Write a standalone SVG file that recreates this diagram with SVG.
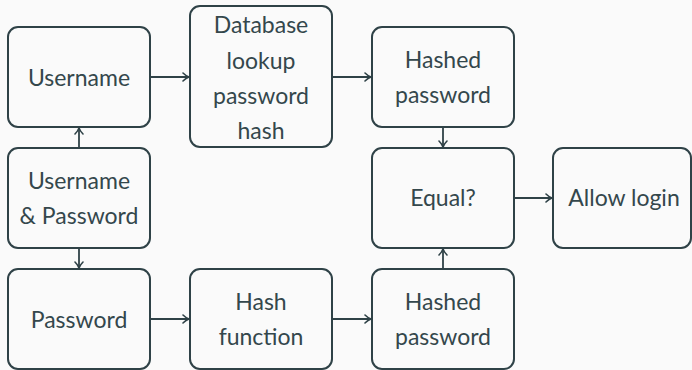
<svg xmlns="http://www.w3.org/2000/svg" width="692" height="370" viewBox="0 0 692 370">
  <defs>
    <marker id="arrow" viewBox="0 0 10 10" refX="9" refY="5" markerWidth="10" markerHeight="10" markerUnits="userSpaceOnUse" orient="auto">
      <path d="M3,1 Q6,4 9,5 Q6,6 3,9" fill="none" stroke="#2f4247" stroke-width="1.6" stroke-linecap="round"/>
    </marker>
    <style>
      .box { fill: none; stroke: #2f4247; stroke-width: 2; }
      .lbl { font-family: Lato, "Liberation Sans", sans-serif; font-size: 23px; fill: #34474c; text-anchor: middle; }
      .edge { fill: none; stroke: #2f4247; stroke-width: 1.8; marker-end: url(#arrow); }
    </style>
  </defs>
  <rect width="692" height="370" fill="#fafafa"/>

  <g id="username">
    <rect class="box" x="8" y="27" width="142" height="100" rx="10"/>
    <text class="lbl" x="79" y="86">Username</text>
  </g>
  <g id="db-lookup">
    <rect class="box" x="190" y="6" width="142" height="141" rx="10"/>
    <text class="lbl" x="261" y="33">Database</text>
    <text class="lbl" x="261" y="69">lookup</text>
    <text class="lbl" x="261" y="104">password</text>
    <text class="lbl" x="261" y="139">hash</text>
  </g>
  <g id="hashed-stored">
    <rect class="box" x="372" y="27" width="142" height="100" rx="10"/>
    <text class="lbl" x="443" y="68">Hashed</text>
    <text class="lbl" x="443" y="103">password</text>
  </g>
  <g id="credentials">
    <rect class="box" x="8" y="148" width="142" height="100" rx="10"/>
    <text class="lbl" x="79" y="189">Username</text>
    <text class="lbl" x="79" y="224">&amp; Password</text>
  </g>
  <g id="equal">
    <rect class="box" x="372" y="148" width="142" height="100" rx="10"/>
    <text class="lbl" x="443" y="206">Equal?</text>
  </g>
  <g id="allow">
    <rect class="box" x="553" y="148" width="138" height="100" rx="10"/>
    <text class="lbl" x="624" y="206">Allow login</text>
  </g>
  <g id="password">
    <rect class="box" x="8" y="269" width="142" height="100" rx="10"/>
    <text class="lbl" x="79" y="328">Password</text>
  </g>
  <g id="hash-fn">
    <rect class="box" x="190" y="269" width="142" height="100" rx="10"/>
    <text class="lbl" x="261" y="310">Hash</text>
    <text class="lbl" x="261" y="345">function</text>
  </g>
  <g id="hashed-input">
    <rect class="box" x="372" y="269" width="142" height="100" rx="10"/>
    <text class="lbl" x="443" y="310">Hashed</text>
    <text class="lbl" x="443" y="345">password</text>
  </g>

  <g id="connectors">
    <path class="edge" d="M151,77 H189"/>
    <path class="edge" d="M333,77 H371"/>
    <path class="edge" d="M443,128 V147"/>
    <path class="edge" d="M79,147 V128"/>
    <path class="edge" d="M79,249 V268"/>
    <path class="edge" d="M151,319 H189"/>
    <path class="edge" d="M333,319 H371"/>
    <path class="edge" d="M443,268 V249"/>
    <path class="edge" d="M515,198 H552"/>
  </g>
</svg>
